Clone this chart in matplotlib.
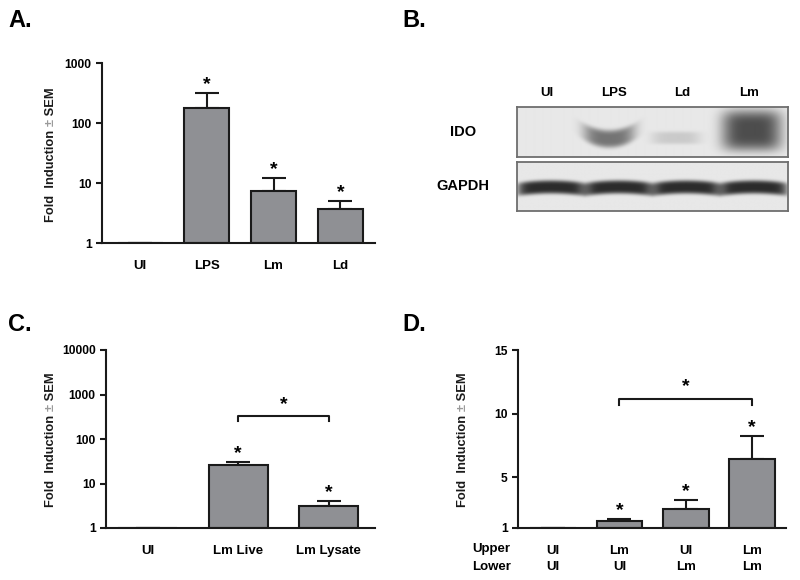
import numpy as np
import matplotlib
matplotlib.use('Agg')
import matplotlib.pyplot as plt
from matplotlib.ticker import NullLocator

plt.rcParams['font.family'] = ['Liberation Sans', 'DejaVu Sans']
plt.rcParams['font.weight'] = 'bold'
plt.rcParams['font.size'] = 9

# A. qPCR, log scale
a_labels = ['UI', 'LPS', 'Lm', 'Ld']
a_values = [1, 180, 7.4, 3.7]
a_sem = [0, 138, 4.7, 1.3]
a_star = [False, True, True, True]

# B. western blot, relative band strength (0 = no band)
b_lanes = ['UI', 'LPS', 'Ld', 'Lm']
b_ido = [0.0, 0.65, 0.17, 0.87]
b_gapdh = [0.95, 0.95, 0.95, 0.95]

# C. live vs lysate, log scale
c_labels = ['UI', 'Lm Live', 'Lm Lysate']
c_values = [1, 26, 3.1]
c_sem = [0, 4, 0.9]
c_star = [False, True, True]
c_bracket = (1, 2, 250, 325)

# D. transwell
d_upper = ['UI', 'Lm', 'UI', 'Lm']
d_lower = ['UI', 'UI', 'Lm', 'Lm']
d_values = [1, 1.55, 2.5, 6.4]
d_sem = [0, 0.15, 0.7, 1.85]
d_star = [False, True, True, True]
d_bracket = (1, 3, 10.7, 11.15)

ylab_parts = ['Fold  Induction ', '±', ' SEM']
ylab_colors = ['#1a1a1a', '#9a9a9a', '#1a1a1a']

BAR = '#8f9094'
INK = '#1a1a1a'
W, H = 800, 580


def box(x0, y0, x1, y1):
    # pixel box (top-left origin) -> figure rect
    return [x0 / W, 1 - y1 / H, (x1 - x0) / W, (y1 - y0) / H]


def bar_panel(ax, values, sem, stars, width, xlim):
    x = np.arange(len(values))
    vals = np.array(values, float)
    err = np.array(sem, float)
    ax.bar(x, vals - 1, bottom=1, width=width, color=BAR, edgecolor=INK,
           linewidth=1.5, zorder=2)
    ax.errorbar(x, vals, yerr=[np.zeros_like(err), err], fmt='none',
                ecolor=INK, elinewidth=1.5, capsize=8.5, capthick=1.5, zorder=1)
    for xi, v, e, s in zip(x, vals, err, stars):
        if s:
            ax.annotate('*', (xi, v + e), xytext=(0, 3), textcoords='offset points',
                        ha='center', va='baseline', fontsize=14)
    ax.set_xlim(*xlim)
    ax.set_xticks(x)
    for sp in ['top', 'right']:
        ax.spines[sp].set_visible(False)
    for sp in ['left', 'bottom']:
        ax.spines[sp].set_linewidth(1.5)
        ax.spines[sp].set_color(INK)
    ax.tick_params(axis='x', length=0, pad=12, labelsize=9.5)
    ax.tick_params(axis='y', direction='out', length=4, width=1.5, color=INK, labelsize=8.7)


def bracket(ax, br):
    x0, x1, lo, hi = br
    ax.plot([x0, x0, x1, x1], [lo, hi, hi, lo], color=INK, lw=1.5)


fig = plt.figure(figsize=(8, 5.8), dpi=100)
renderer = fig.canvas.get_renderer()


def ylabel(xr, yc):
    # rotated label in three pieces so the ± can be grey; xr = right edge px, yc = centre px
    lens = []
    for part in ylab_parts:
        t = fig.text(0, 0, part, fontsize=9.3)
        lens.append(t.get_window_extent(renderer).width)
        t.remove()
    y = (H - yc) - sum(lens) / 2
    for part, col, ln in zip(ylab_parts, ylab_colors, lens):
        fig.text(xr / W, y / H, part, rotation=90, ha='right', va='bottom',
                 fontsize=9.3, color=col)
        y += ln


# ---- A ----
axA = fig.add_axes(box(102, 63, 375, 243))
bar_panel(axA, a_values, a_sem, a_star, 0.675, (-0.57, 3.52))
axA.set_yscale('log')
axA.set_ylim(1, 1000)
axA.set_yticks([1, 10, 100, 1000])
axA.set_yticklabels(['1', '10', '100', '1000'])
axA.yaxis.set_minor_locator(NullLocator())
axA.set_xticklabels(a_labels)
ylabel(57, 155)

# ---- C ----
axC = fig.add_axes(box(106, 350, 375, 528))
bar_panel(axC, c_values, c_sem, c_star, 0.65, (-0.46, 2.51))
axC.set_yscale('log')
axC.set_ylim(1, 10000)
axC.set_yticks([1, 10, 100, 1000, 10000])
axC.set_yticklabels(['1', '10', '100', '1000', '10000'])
axC.yaxis.set_minor_locator(NullLocator())
axC.set_xticklabels(c_labels)
ylabel(57, 440)
bracket(axC, c_bracket)
axC.text((c_bracket[0] + c_bracket[1]) / 2, c_bracket[3] * 1.45, '*',
         ha='center', va='baseline', fontsize=14)

# ---- D ----
axD = fig.add_axes(box(518, 350, 786, 528))
bar_panel(axD, d_values, d_sem, d_star, 0.69, (-0.53, 3.51))
axD.set_ylim(1, 15)
axD.set_yticks([1, 5, 10, 15])
axD.set_xticklabels([u + '\n' + l for u, l in zip(d_upper, d_lower)],
                    linespacing=1.45)
axD.tick_params(axis='x', pad=12)
ylabel(469, 440)
bracket(axD, d_bracket)
axD.text((d_bracket[0] + d_bracket[1]) / 2, d_bracket[3] + 0.6, '*',
         ha='center', va='baseline', fontsize=14)
fig.text(472 / W, 1 - 549 / H, 'Upper', ha='left', va='center', fontsize=9.5)
fig.text(472 / W, 1 - 567 / H, 'Lower', ha='left', va='center', fontsize=9.5)

# ---- B: blot ----
nx, ny = 272, 50
xs = np.linspace(-0.5, 3.5, nx)
ys = np.linspace(0, 1, ny)
X, Y = np.meshgrid(xs, ys)

# band shapes per lane: x shift, y centre, x half width, y half width, curvature
ido_shape = [(0.0, 0.55, 0.3, 0.15, 0.0),
             (-0.14, 0.64, 0.38, 0.18, 1.0),
             (-0.15, 0.62, 0.36, 0.13, 0.0),
             (-0.03, 0.47, 0.44, 0.41, 0.0)]
ido_dark = np.zeros_like(X)
for i, lv in enumerate(b_ido):
    dx, yc, wx, wy, cv = ido_shape[i]
    cx = i + dx
    yline = yc - cv * (X - cx) ** 2
    ido_dark += lv * np.exp(-((X - cx) / wx) ** 4) * np.exp(-((Y - yline) / wy) ** 4)
ido_img = 0.91 - 0.7 * np.clip(ido_dark, 0, 1)

gapdh_dark = np.zeros_like(X)
for i, lv in enumerate(b_gapdh):
    u = (X - i) / 0.5
    yline = 0.56 - 0.05 * np.clip(1 - u ** 2, 0, 1)
    gapdh_dark += lv * np.exp(-np.abs(u) ** 8) * np.exp(-((Y - yline) / 0.14) ** 4)
gapdh_img = 0.91 - 0.78 * np.clip(gapdh_dark, 0, 1)

for rect, img in [(box(517, 107, 788, 157), ido_img), (box(517, 162, 788, 211), gapdh_img)]:
    axb = fig.add_axes(rect)
    axb.imshow(img, cmap='gray', vmin=0, vmax=1, aspect='auto',
               extent=(-0.5, 3.5, 1, 0), interpolation='bilinear')
    axb.set_xticks([])
    axb.set_yticks([])
    for sp in axb.spines.values():
        sp.set_color('#6e6e6e')
        sp.set_linewidth(1.3)

for px, lab in zip([547, 614, 682, 749], b_lanes):
    fig.text(px / W, 1 - 93 / H, lab, ha='center', va='center', fontsize=9.5)
fig.text(463 / W, 1 - 132 / H, 'IDO', ha='center', va='center', fontsize=10.5)
fig.text(463 / W, 1 - 186 / H, 'GAPDH', ha='center', va='center', fontsize=10.5)

# panel letters
for px, py, lab in [(8, 27, 'A.'), (402, 27, 'B.'), (8, 331, 'C.'), (402, 331, 'D.')]:
    fig.text(px / W, 1 - py / H, lab, ha='left', va='baseline', fontsize=17)

fig.savefig('out.png', dpi=100)
